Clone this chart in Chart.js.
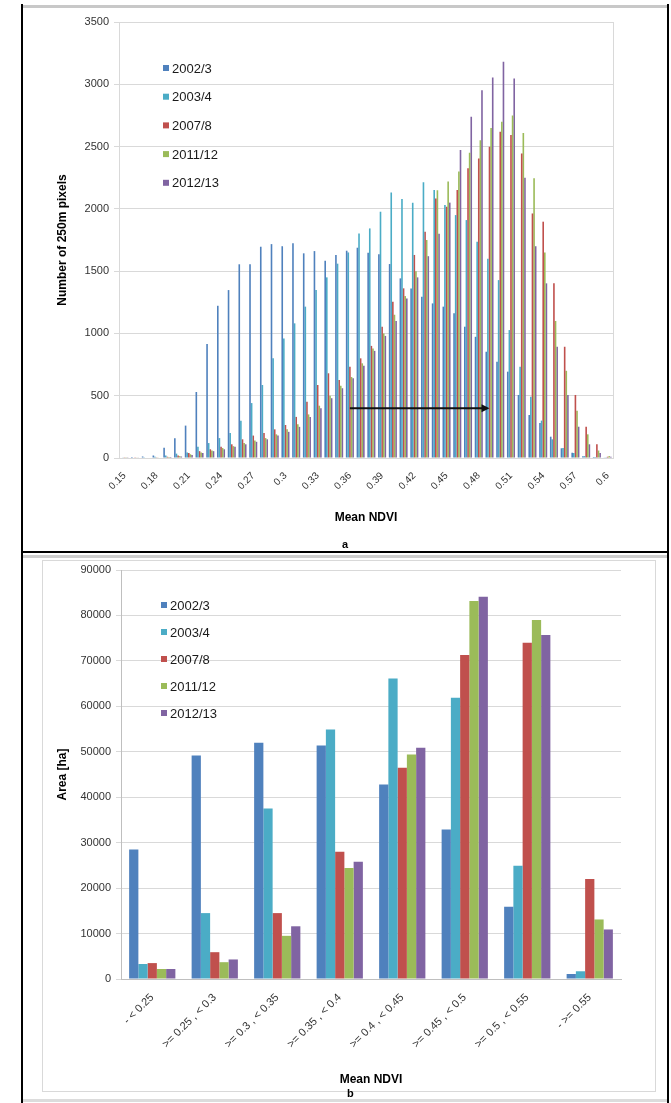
<!DOCTYPE html>
<html>
<head>
<meta charset="utf-8">
<script src="https://cdn.jsdelivr.net/npm/chart.js@4.4.0/dist/chart.umd.min.js"></script>
<style>
  html, body { margin: 0; padding: 0; background: #fff; }
  body { width: 671px; height: 1103px; position: relative; overflow: hidden; font-family: "Liberation Sans", Arial, sans-serif; }
  .ln { position: absolute; }
  canvas { position: absolute; }
  .tag { position: absolute; font-weight: bold; font-size: 11px; color: #000; }
</style>
</head>
<body>
<div class="ln" style="left:22px;top:5px;width:646px;height:3px;background:#c8c8c8"></div>
<div class="ln" style="left:21px;top:4px;width:2px;height:1099px;background:#000"></div>
<div class="ln" style="left:667px;top:4px;width:2px;height:1099px;background:#000"></div>
<div class="ln" style="left:21px;top:551px;width:648px;height:2px;background:#000"></div>
<div class="ln" style="left:23px;top:555px;width:644px;height:3px;background:#cfcfcf"></div>
<div class="ln" style="left:23px;top:1099px;width:644px;height:3px;background:#dcdcdc"></div>
<div class="ln" style="left:42px;top:560px;width:612px;height:530px;border:1px solid #d9d9d9"></div>

<canvas id="histo" width="640" height="530" style="left:25px;top:10px"></canvas>
<canvas id="area" width="640" height="540" style="left:25px;top:558px"></canvas>
<div class="tag" style="left:342px;top:538px">a</div>
<div class="tag" style="left:347px;top:1087px">b</div>

<script>
// seasons and Excel-style series colours
const seasons = ['2002/3', '2003/4', '2007/8', '2011/12', '2012/13'];
const colors = ['#4F81BD', '#4BACC6', '#C0504D', '#9BBB59', '#8064A2'];

// (a) histogram of mean NDVI, number of 250m pixels per bin
const ndviBins = ['0.15','0.16','0.17','0.18','0.19','0.2','0.21','0.22','0.23','0.24',
                  '0.25','0.26','0.27','0.28','0.29','0.3','0.31','0.32','0.33','0.34',
                  '0.35','0.36','0.37','0.38','0.39','0.4','0.41','0.42','0.43','0.44',
                  '0.45','0.46','0.47','0.48','0.49','0.5','0.51','0.52','0.53','0.54',
                  '0.55','0.56','0.57','0.58','0.59','0.6'];
const px0203 = [5,8,12,20,83,158,260,530,915,1222,1348,1555,1555,1696,1717,1700,1723,1643,1661,1584,
                1629,1664,1688,1648,1635,1557,1442,1360,1295,1241,1215,1161,1054,973,853,773,693,506,345,281,
                171,78,43,15,8,3];
const px0304 = [3,4,6,10,20,35,45,90,120,160,200,300,441,586,800,960,1081,1215,1348,1450,
                1560,1650,1803,1843,1977,2132,2079,2049,2213,2151,2030,1950,1910,1736,1600,1428,1027,733,492,300,
                150,80,40,15,8,3];
const px0708 = [2,3,4,6,10,20,40,55,70,90,110,150,180,200,230,265,330,452,586,680,
                626,733,800,900,1054,1255,1362,1630,1816,2084,2017,2151,2325,2405,2499,2619,2592,2445,1963,1897,
                1402,893,506,251,110,10];
const px1112 = [2,3,4,5,8,15,30,45,60,80,95,120,140,160,190,230,270,350,420,500,
                580,650,760,880,1000,1150,1300,1500,1750,2150,2220,2300,2450,2550,2650,2700,2750,2608,2246,1650,
                1100,700,380,190,60,15];
const px1213 = [2,3,4,5,8,12,25,40,55,70,90,110,130,150,180,210,250,330,400,480,
                560,640,740,860,980,1100,1280,1450,1620,1800,2050,2472,2740,2953,3055,3181,3047,2250,1700,1402,
                893,506,251,110,40,10];
// arrow drawn on (a): shift of the distribution
const arrowFrom = '0.36', arrowTo = '0.49', arrowLevel = 400;

// (b) area per NDVI class [ha]
const ndviClasses = ['- < 0.25', '>= 0.25 , < 0.3', '>= 0.3 , < 0.35', '>= 0.35 , < 0.4',
                     '>= 0.4 , < 0.45', '>= 0.45 , < 0.5', '>= 0.5 , < 0.55', '- >= 0.55'];
const ha0203 = [28500, 49200, 52000, 51400, 42800, 32900, 15900, 1100];
const ha0304 = [3300, 14500, 37500, 54900, 66100, 61900, 24900, 1700];
const ha0708 = [3500, 5900, 14500, 28000, 46500, 71300, 74000, 22000];
const ha1112 = [2200, 3700, 9500, 24400, 49400, 83200, 79000, 13100];
const ha1213 = [2200, 4300, 11600, 25800, 50900, 84100, 75700, 10900];

const FONT = '"Liberation Sans", Arial, sans-serif';

const insideLegend = {
    id: 'insideLegend',
    afterDraw(chart, args, opts) {
        const ctx = chart.ctx, area = chart.chartArea;
        ctx.save();
        ctx.font = opts.size + 'px ' + FONT;
        ctx.textBaseline = 'middle';
        chart.data.datasets.forEach((ds, i) => {
            const x = area.left + opts.x, y = area.top + opts.y + i * opts.gap;
            ctx.fillStyle = ds.backgroundColor;
            ctx.fillRect(x, y - 3, 6, 6);
            ctx.fillStyle = '#1a1a1a';
            ctx.fillText(ds.label, x + 9, y + 1);
        });
        ctx.restore();
    }
};

const plotFrame = {
    id: 'plotFrame',
    beforeDatasetsDraw(chart, args, opts) {
        if (!opts.show) return;
        const a = chart.chartArea, ctx = chart.ctx;
        ctx.save();
        ctx.strokeStyle = '#d9d9d9';
        ctx.lineWidth = 1;
        ctx.strokeRect(a.left + 0.5, a.top + 0.5, a.right - a.left, a.bottom - a.top);
        ctx.restore();
    }
};

const arrowNote = {
    id: 'arrowNote',
    afterDatasetsDraw(chart, args, opts) {
        if (!opts.show) return;
        const xs = chart.scales.x, ys = chart.scales.y, ctx = chart.ctx;
        const x0 = xs.getPixelForValue(xs.getLabels().indexOf(opts.from));
        const x1 = xs.getPixelForValue(xs.getLabels().indexOf(opts.to));
        const y = ys.getPixelForValue(opts.level);
        ctx.save();
        ctx.strokeStyle = '#111';
        ctx.fillStyle = '#111';
        ctx.lineWidth = 2;
        ctx.beginPath();
        ctx.moveTo(x0, y);
        ctx.lineTo(x1 - 6, y);
        ctx.stroke();
        ctx.beginPath();
        ctx.moveTo(x1, y);
        ctx.lineTo(x1 - 8, y - 4);
        ctx.lineTo(x1 - 8, y + 4);
        ctx.closePath();
        ctx.fill();
        ctx.restore();
    }
};

function makeSets(series, params) {
    return series.map((d, i) => ({
        label: seasons[i],
        data: d,
        backgroundColor: colors[i],
        borderWidth: 0,
        categoryPercentage: params.catPct,
        barPercentage: 1.0
    }));
}

function drawChart(canvas, labels, series, params) {
    const ctx = document.getElementById(canvas).getContext('2d');
    return new Chart(ctx, {
        type: 'bar',
        data: { labels: labels, datasets: makeSets(series, params) },
        plugins: [plotFrame, arrowNote, insideLegend],
        options: {
            responsive: false,
            animation: false,
            devicePixelRatio: 1,
            layout: { padding: { left: 0, right: params.padRight, top: 12, bottom: 0 } },
            scales: {
                x: {
                    grid: { display: false },
                    border: { color: '#bfbfbf' },
                    ticks: {
                        autoSkip: false,
                        minRotation: 45,
                        maxRotation: 45,
                        padding: 4,
                        color: '#333',
                        font: { family: FONT, size: params.xTickSize },
                        callback: function(value, index) {
                            return index % params.every === 0 ? labels[index] : '';
                        }
                    },
                    title: {
                        display: true,
                        text: 'Mean NDVI',
                        color: '#000',
                        font: { family: FONT, size: 12, weight: 'bold' },
                        padding: { top: 0, bottom: params.xTitlePad }
                    },
                    afterFit: (s) => { s.height = params.xHeight; }
                },
                y: {
                    min: 0,
                    max: params.ymax,
                    grid: { color: '#d9d9d9', tickLength: 5 },
                    border: { color: '#bfbfbf' },
                    ticks: {
                        stepSize: params.step,
                        padding: 5,
                        color: '#333',
                        font: { family: FONT, size: 11 },
                        callback: (v) => String(v)
                    },
                    title: {
                        display: true,
                        text: params.ylabel,
                        color: '#000',
                        font: { family: FONT, size: 12, weight: 'bold' },
                        padding: { top: 30, bottom: 0 }
                    },
                    afterFit: (s) => { s.width = params.yWidth; }
                }
            },
            plugins: {
                legend: { display: false },
                tooltip: { enabled: false },
                insideLegend: params.legend,
                plotFrame: { show: params.frame },
                arrowNote: params.arrow
            }
        }
    });
}

drawChart('histo', ndviBins, [px0203, px0304, px0708, px1112, px1213], {
    ylabel: 'Number of 250m pixels',
    ymax: 3500, step: 500,
    catPct: 0.75, every: 3, xTickSize: 10,
    padRight: 52, yWidth: 94, xHeight: 82, xTitlePad: 15,
    frame: true,
    legend: { x: 44, y: 46, gap: 28.7, size: 13 },
    arrow: { show: true, from: arrowFrom, to: arrowTo, level: arrowLevel }
});

drawChart('area', ndviClasses, [ha0203, ha0304, ha0708, ha1112, ha1213], {
    ylabel: 'Area [ha]',
    ymax: 90000, step: 10000,
    catPct: 0.74, every: 1, xTickSize: 11,
    padRight: 44, yWidth: 96, xHeight: 119, xTitlePad: 11,
    frame: false,
    legend: { x: 40, y: 35, gap: 27, size: 13 },
    arrow: { show: false }
});
</script>
</body>
</html>
